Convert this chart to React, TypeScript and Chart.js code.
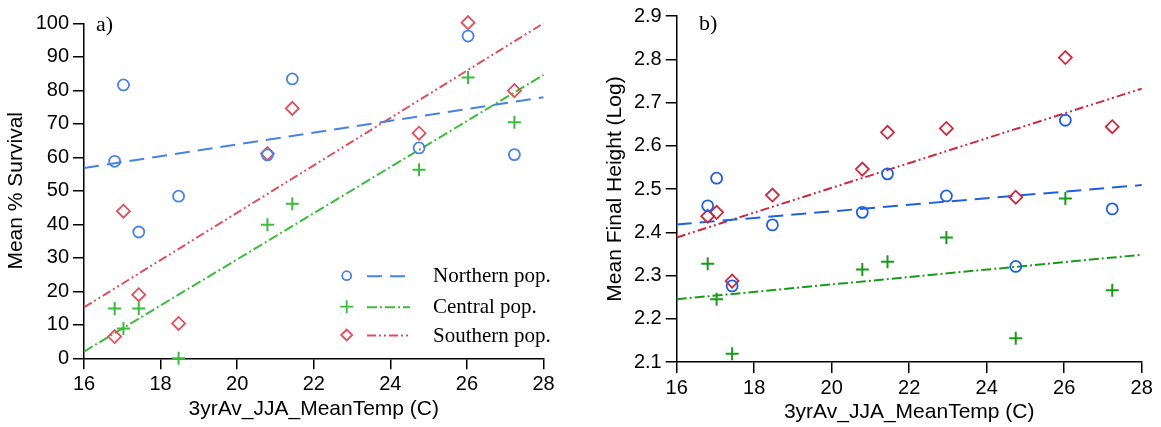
import React, { useEffect, useRef } from 'react';
import { Chart, registerables } from 'chart.js';

Chart.register(...registerables);

// ---- data ----
const temps = [16.8, 17.03, 17.43, 18.47, 20.79, 21.44, 22.96, 24.75, 26.03, 27.24];

const northSurv = [58.8, 81.6, 37.7, 48.4, 60.7, 83.4, null, 62.8, 96.2, 60.8];
const centralSurv = [14.9, 8.9, 14.9, 0, 39.9, 46.1, null, 56.3, 83.8, 70.5];
const southSurv = [6.5, 43.9, 19.0, 10.4, 61.1, 74.6, null, 67.2, 100.2, 79.9];

const northHeight = [2.461, 2.525, 2.276, 2.417, 2.446, 2.535, 2.484, 2.321, 2.659, 2.454];
const centralHeight = [2.327, 2.245, 2.119, null, 2.314, 2.332, 2.388, 2.155, 2.478, 2.266];
const southHeight = [2.437, 2.446, 2.287, 2.486, 2.546, 2.631, 2.640, 2.481, 2.804, 2.644];

const fitX = [16, 28];
const northSurvFit = [56.8, 77.9];
const centralSurvFit = [2.0, 84.6];
const southSurvFit = [15.2, 100];
const northHeightFit = [2.418, 2.509];
const centralHeightFit = [2.245, 2.348];
const southHeightFit = [2.388, 2.732];

const xTicks = [16, 18, 20, 22, 24, 26, 28];
const survTicks = [0, 10, 20, 30, 40, 50, 60, 70, 80, 90, 100];
const heightTicks = [2.1, 2.2, 2.3, 2.4, 2.5, 2.6, 2.7, 2.8, 2.9];

const legendLabels = ['Northern pop.', 'Central pop.', 'Southern pop.'];

const SANS = '"Liberation Sans", Arial, Helvetica, sans-serif';
const SERIF = '"Liberation Serif", "Times New Roman", serif';

const DASH_N = [15, 8];
const DASH_C = [10, 3, 2, 3];
const DASH_S = [9, 3, 2, 3, 2, 3];

function pts(xs: number[], ys: (number | null)[]) {
  return xs.map((x, i) => ({ x, y: ys[i] })).filter((p) => p.y !== null) as { x: number; y: number }[];
}

function drawMarker(ctx: CanvasRenderingContext2D, kind: string, x: number, y: number, r: number, color: string, lw: number) {
  ctx.save();
  ctx.strokeStyle = color;
  ctx.lineWidth = lw;
  ctx.setLineDash([]);
  ctx.beginPath();
  if (kind === 'circle') {
    ctx.arc(x, y, r, 0, Math.PI * 2);
  } else if (kind === 'cross') {
    ctx.moveTo(x - r, y);
    ctx.lineTo(x + r, y);
    ctx.moveTo(x, y - r);
    ctx.lineTo(x, y + r);
  } else {
    ctx.moveTo(x - r, y);
    ctx.lineTo(x, y - r);
    ctx.lineTo(x + r, y);
    ctx.lineTo(x, y + r);
    ctx.closePath();
  }
  ctx.stroke();
  ctx.restore();
}

type PanelSpec = {
  width: number;
  height: number;
  yWidth: number;
  xHeight: number;
  padTop: number;
  padRight: number;
  yMin: number;
  yMax: number;
  yTicks: number[];
  yTitle: string;
  yTitlePad: number;
  xTitlePad: number;
  colors: [string, string, string];
  north: (number | null)[];
  central: (number | null)[];
  south: (number | null)[];
  northFit: number[];
  centralFit: number[];
  southFit: number[];
  tag: string;
  tagX: number;
  tagY: number;
  legend: boolean;
  decimals: number;
};

function makeConfig(p: PanelSpec): any {
  const [cN, cC, cS] = p.colors;
  const axisCommon = {
    grid: { drawOnChartArea: false, drawTicks: true, tickLength: 11, color: '#000', lineWidth: 1.5 },
    border: { display: true, color: '#000', width: 1.5 },
  };
  const decoPlugin = {
    id: 'deco',
    afterDraw(chart: any) {
      const ctx: CanvasRenderingContext2D = chart.ctx;
      ctx.save();
      ctx.fillStyle = '#000';
      ctx.font = `22px ${SERIF}`;
      ctx.textBaseline = 'alphabetic';
      ctx.textAlign = 'left';
      ctx.fillText(p.tag, p.tagX, p.tagY);
      if (p.legend) {
        const rows = [275.7, 306.7, 335];
        const styles = [
          { c: cN, d: DASH_N, m: 'circle', r: 4.5 },
          { c: cC, d: DASH_C, m: 'cross', r: 6.5 },
          { c: cS, d: DASH_S, m: 'diamond', r: 5.5 },
        ];
        rows.forEach((ry, i) => {
          const s = styles[i];
          drawMarker(ctx, s.m, 346.7, ry, s.r, s.c, 1.8);
          ctx.save();
          ctx.strokeStyle = s.c;
          ctx.lineWidth = 2;
          ctx.setLineDash(s.d);
          ctx.beginPath();
          ctx.moveTo(367, ry + 0.5);
          ctx.lineTo(410, ry + 0.5);
          ctx.stroke();
          ctx.restore();
          ctx.fillStyle = '#000';
          ctx.font = `21px ${SERIF}`;
          ctx.textBaseline = 'middle';
          ctx.fillText(legendLabels[i], 433, ry + 1);
        });
      }
      ctx.restore();
    },
  };

  const scatter = (data: any, color: string, style: string, r: number, bw: number) => ({
    type: 'scatter',
    data,
    showLine: false,
    pointStyle: style,
    pointRadius: r,
    pointBorderWidth: bw,
    pointBorderColor: color,
    pointBackgroundColor: 'rgba(0,0,0,0)',
    borderColor: color,
    backgroundColor: 'rgba(0,0,0,0)',
    clip: false,
  });
  const fit = (ys: number[], color: string, dash: number[]) => ({
    type: 'scatter',
    data: pts(fitX, ys),
    showLine: true,
    pointRadius: 0,
    borderColor: color,
    borderWidth: 2,
    borderDash: dash,
    backgroundColor: 'rgba(0,0,0,0)',
    fill: false,
    clip: false,
  });

  return {
    type: 'scatter',
    data: {
      datasets: [
        scatter(pts(temps, p.north), cN, 'circle', 5.5, 1.8),
        scatter(pts(temps, p.central), cC, 'cross', 6.5, 2),
        scatter(pts(temps, p.south), cS, 'rectRot', 6.5, 1.8),
        fit(p.northFit, cN, DASH_N),
        fit(p.centralFit, cC, DASH_C),
        fit(p.southFit, cS, DASH_S),
      ],
    },
    options: {
      animation: false,
      responsive: false,
      devicePixelRatio: 1,
      events: [],
      layout: { padding: { left: 0, top: p.padTop, right: p.padRight, bottom: 0 } },
      plugins: { legend: { display: false }, tooltip: { enabled: false }, title: { display: false } },
      scales: {
        x: {
          type: 'linear',
          min: xTicks[0],
          max: xTicks[xTicks.length - 1],
          afterBuildTicks: (s: any) => { s.ticks = xTicks.map((v) => ({ value: v })); },
          ticks: { color: '#000', font: { family: SANS, size: 20 }, padding: 3, maxRotation: 0, callback: (v: any) => String(v) },
          title: {
            display: true,
            text: '3yrAv_JJA_MeanTemp (C)',
            color: '#000',
            font: { family: SANS, size: 21 },
            padding: { top: 0, bottom: p.xTitlePad },
          },
          afterFit: (s: any) => { s.height = p.xHeight; },
          ...axisCommon,
        },
        y: {
          type: 'linear',
          min: p.yMin,
          max: p.yMax,
          afterBuildTicks: (s: any) => { s.ticks = p.yTicks.map((v) => ({ value: v })); },
          ticks: {
            color: '#000',
            font: { family: SANS, size: 20 },
            padding: 4,
            callback: (v: any) => Number(v).toFixed(p.decimals),
          },
          title: {
            display: true,
            text: p.yTitle,
            color: '#000',
            font: { family: SANS, size: 21 },
            padding: { top: p.yTitlePad, bottom: 0 },
          },
          afterFit: (s: any) => { s.width = p.yWidth; },
          ...axisCommon,
        },
      },
    },
    plugins: [decoPlugin],
  };
}

const leftSpec: PanelSpec = {
  width: 580,
  height: 427,
  yWidth: 84,
  xHeight: 427 - 358.3,
  padTop: 23.3,
  padRight: 580 - 543.5,
  yMin: 0,
  yMax: 100,
  yTicks: survTicks,
  yTitle: 'Mean % Survival',
  yTitlePad: 4,
  xTitlePad: 5,
  colors: ['#4a82e4', '#3cbc3c', '#e0505c'],
  north: northSurv,
  central: centralSurv,
  south: southSurv,
  northFit: northSurvFit,
  centralFit: centralSurvFit,
  southFit: southSurvFit,
  tag: 'a)',
  tagX: 96,
  tagY: 31,
  legend: true,
  decimals: 0,
};

const rightSpec: PanelSpec = {
  width: 581,
  height: 427,
  yWidth: 96.7,
  xHeight: 427 - 362,
  padTop: 15.7,
  padRight: 581 - 561.7,
  yMin: 2.1,
  yMax: 2.9,
  yTicks: heightTicks,
  yTitle: 'Mean Final Height (Log)',
  yTitlePad: 23,
  xTitlePad: 2,
  colors: ['#2060dc', '#1a9a1a', '#cc2a40'],
  north: northHeight,
  central: centralHeight,
  south: southHeight,
  northFit: northHeightFit,
  centralFit: centralHeightFit,
  southFit: southHeightFit,
  tag: 'b)',
  tagX: 119,
  tagY: 30,
  legend: false,
  decimals: 1,
};

function Panel({ spec, left }: { spec: PanelSpec; left: number }) {
  const ref = useRef<HTMLCanvasElement | null>(null);
  useEffect(() => {
    if (!ref.current) return;
    const chart = new Chart(ref.current, makeConfig(spec));
    return () => chart.destroy();
  }, [spec]);
  return (
    <canvas
      ref={ref}
      width={spec.width}
      height={spec.height}
      style={{ position: 'absolute', left, top: 0, width: spec.width, height: spec.height }}
    />
  );
}

export default function App() {
  return (
    <div style={{ position: 'fixed', left: 0, top: 0, width: 1161, height: 427, background: '#fff', overflow: 'hidden' }}>
      <Panel spec={leftSpec} left={0} />
      <Panel spec={rightSpec} left={580} />
    </div>
  );
}
